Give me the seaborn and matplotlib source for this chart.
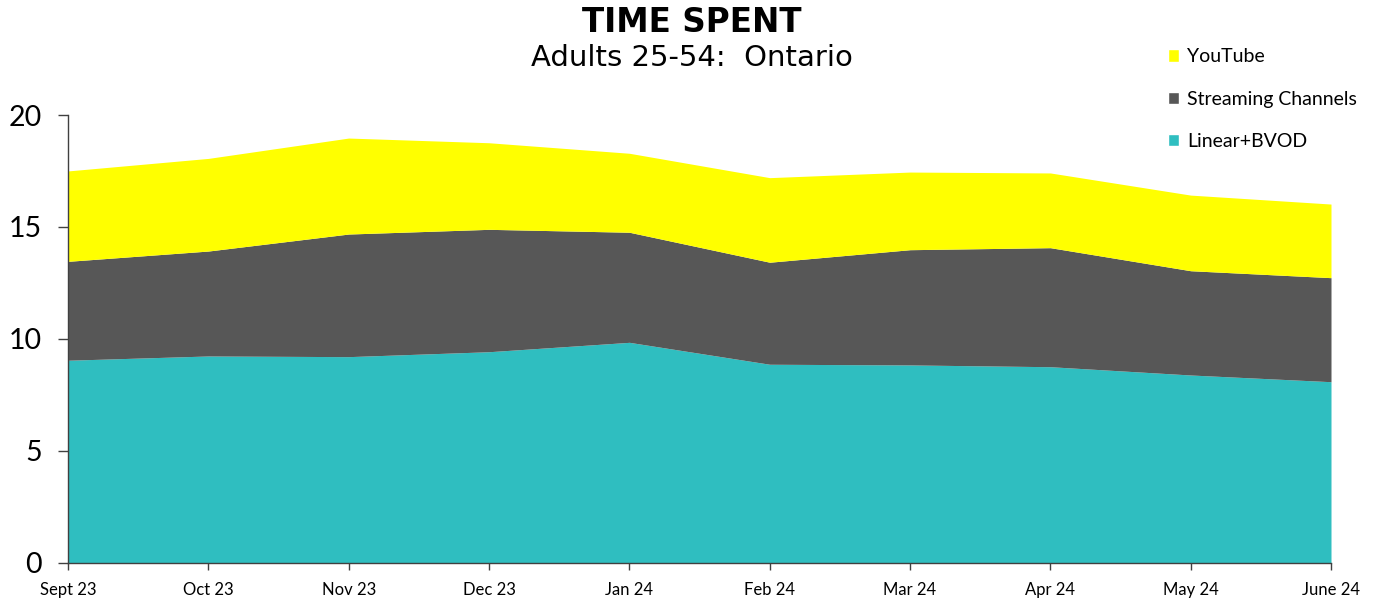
import matplotlib
matplotlib.use("Agg")
import matplotlib.pyplot as plt
import seaborn as sns
import numpy as np
from matplotlib.patches import Patch

months = ["Sept 23", "Oct 23", "Nov 23", "Dec 23", "Jan 24", "Feb 24", "Mar 24", "Apr 24", "May 24", "June 24"]
linear_bvod = [9.04, 9.23, 9.20, 9.42, 9.84, 8.86, 8.83, 8.75, 8.38, 8.08]
streaming = [4.42, 4.69, 5.48, 5.47, 4.92, 4.56, 5.15, 5.32, 4.66, 4.65]
youtube = [4.04, 4.14, 4.29, 3.87, 3.53, 3.78, 3.47, 3.34, 3.38, 3.29]
series_names = ["Linear+BVOD", "Streaming Channels", "YouTube"]
colors = ["#2FBEC0", "#575757", "#FFFF00"]
y_ticks = [0, 5, 10, 15, 20]

sns.set_theme(style="white")
plt.rcParams['font.family'] = ['Lato', 'DejaVu Sans']
plt.rcParams['text.color'] = 'black'
plt.rcParams['xtick.color'] = 'black'
plt.rcParams['ytick.color'] = 'black'

fig = plt.figure(figsize=(13.83, 6.06), dpi=100)
ax = fig.add_axes([68/1383, 1 - 562.5/606, (1331-68)/1383, (562.5-115)/606])

x = np.arange(len(months))
ax.stackplot(x, linear_bvod, streaming, youtube, colors=colors, labels=series_names, linewidth=0)

ax.set_xlim(0, len(months) - 1)
ax.set_ylim(0, 20)
ax.set_xticks(x)
ax.set_xticklabels(months, fontsize=12)
ax.set_yticks(y_ticks)
ax.set_yticklabels([str(v) for v in y_ticks], fontsize=20.5)
for s in ["top", "right"]:
    ax.spines[s].set_visible(False)
for s in ["left", "bottom"]:
    ax.spines[s].set_color("#404040")
    ax.spines[s].set_linewidth(1.0)
ax.tick_params(axis="y", direction="out", length=7, width=1, color="#404040", labelcolor="black", pad=12, left=True)
ax.tick_params(axis="x", direction="out", length=5, width=1, color="#404040", labelcolor="black", pad=9, bottom=True)
ax.grid(False)

fig.text(0.5, 1 - 22/606, "TIME SPENT", ha="center", va="center", fontsize=23.5, fontweight="bold",
         family=["DejaVu Sans"], color="black")
fig.text(0.5, 1 - 58/606, "Adults 25-54:  Ontario", ha="center", va="center", fontsize=21,
         family=["DejaVu Sans"], color="black")

handles = [Patch(facecolor=colors[2]), Patch(facecolor=colors[1]), Patch(facecolor=colors[0])]
labels = ["YouTube", "Streaming Channels", "Linear+BVOD"]
fig.legend(handles, labels, loc="upper left", bbox_to_anchor=(1150/1383, 1 - 31/606), frameon=False,
           fontsize=14, handlelength=0.6, handleheight=0.6, handletextpad=0.4, labelspacing=1.3)

fig.savefig("out.png", dpi=100)
